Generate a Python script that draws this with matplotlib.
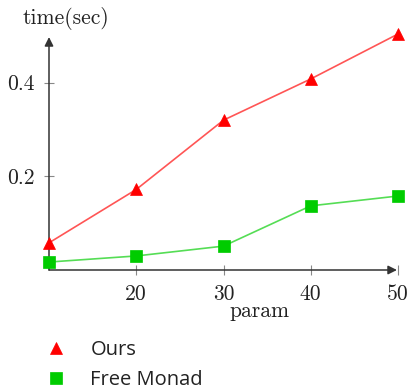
import matplotlib
matplotlib.use("Agg")
import matplotlib.pyplot as plt
from matplotlib.lines import Line2D

params = [10, 20, 30, 40, 50]
ours = [0.058, 0.172, 0.320, 0.408, 0.504]
free_monad = [0.017, 0.030, 0.051, 0.137, 0.158]
x_ticks = [20, 30, 40, 50]
x_tick_labels = ["20", "30", "40", "50"]
y_ticks = [0.2, 0.4]
y_tick_labels = ["0.2", "0.4"]
series_names = ["Ours", "Free Monad"]

W, H = 411, 389
fig = plt.figure(figsize=(W / 100, H / 100), dpi=100)
ax = fig.add_axes([49 / W, (H - 270) / H, 349 / W, 236 / H])

serif = "cmr10"

ax.plot(params, ours, color="#ff5555", lw=1.2, zorder=3, clip_on=False)
ax.plot(params, ours, ls="none", marker="^", ms=8, mfc="#ff0000", mec="#ff0000",
        mew=0.5, zorder=4, clip_on=False)
ax.plot(params, free_monad, color="#55dd55", lw=1.2, zorder=3, clip_on=False)
ax.plot(params, free_monad, ls="none", marker="s", ms=9, mfc="#00cc00", mec="#00cc00",
        mew=0.5, zorder=4, clip_on=False)

ax.set_xlim(10, 50)
ax.set_ylim(0, 0.504)

for s in ax.spines.values():
    s.set_visible(False)

# axis lines with arrow heads
ax.annotate("", xy=(0.997, 0), xytext=(0, 0), xycoords="axes fraction",
            arrowprops=dict(arrowstyle="-|>", color="#333333", lw=1.1,
                            mutation_scale=13, shrinkA=0, shrinkB=0), annotation_clip=False)
ax.annotate("", xy=(0, 0.987), xytext=(0, 0), xycoords="axes fraction",
            arrowprops=dict(arrowstyle="-|>", color="#333333", lw=1.1,
                            mutation_scale=13, shrinkA=0, shrinkB=0), annotation_clip=False)

ax.set_xticks(x_ticks)
ax.set_xticklabels(x_tick_labels, fontfamily=serif, fontsize=15.5)
ax.set_yticks(y_ticks)
ax.set_yticklabels(y_tick_labels, fontfamily=serif, fontsize=15.5)
ax.tick_params(axis="both", direction="inout", length=7, width=0.8, color="#888888",
               labelcolor="#222222")
ax.tick_params(axis="x", pad=7)
ax.tick_params(axis="y", pad=7)

fig.text(66 / W, 1 - 18 / H, "time(sec)", fontfamily=serif, fontsize=15.5,
         ha="center", va="center", color="#222222")
fig.text(259 / W, 1 - 311 / H, "param", fontfamily=serif, fontsize=15.5,
         ha="center", va="center", color="#222222")

handles = [
    Line2D([], [], ls="none", marker="^", ms=8, mfc="#ff0000", mec="#ff0000", mew=0.5),
    Line2D([], [], ls="none", marker="s", ms=9, mfc="#00cc00", mec="#00cc00", mew=0.5),
]
leg = fig.legend(handles, series_names, loc="upper left",
                 bbox_to_anchor=(44 / W, 1 - 340 / H), frameon=False,
                 prop={"family": "Open Sans", "size": 14.5}, handlelength=1.2,
                 handletextpad=1.1, labelspacing=0.5, borderpad=0, borderaxespad=0)
for t in leg.get_texts():
    t.set_color("#222222")

fig.savefig("out.png", dpi=100)
